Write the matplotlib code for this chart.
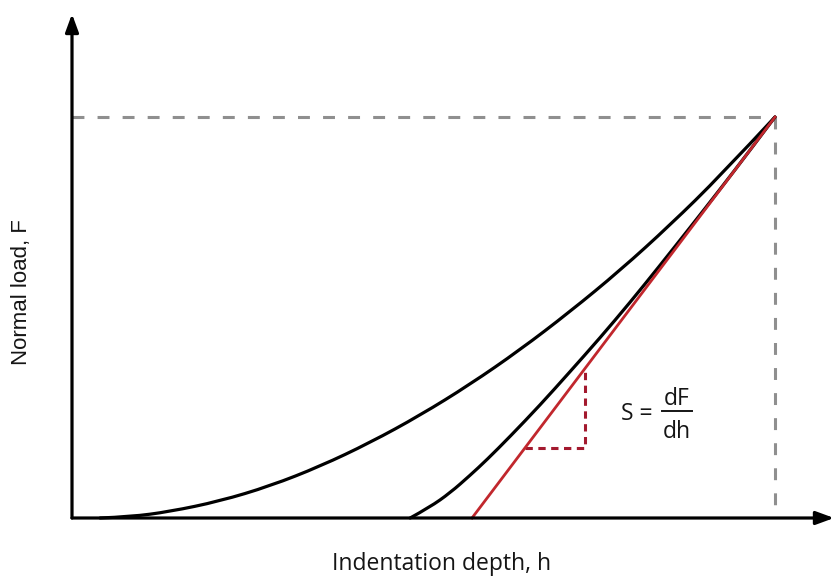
import matplotlib
matplotlib.use("Agg")
import matplotlib.pyplot as plt
from matplotlib.path import Path
from matplotlib.patches import PathPatch

# Loading branch of the indentation curve (depth h, load F; both in % of maximum)
load_h = [4.0, 8.3, 13.9, 21.0, 28.2, 35.3, 42.4, 49.5, 56.6, 63.7, 70.8, 78.0, 85.1, 92.2, 100.0]
load_F = [0.0, 0.3, 1.6, 4.2, 8.0, 12.9, 18.8, 25.6, 33.3, 41.9, 51.4, 61.8, 73.1, 85.3, 100.0]

# Unloading branch
unload_h = [48.1, 50.9, 53.8, 56.6, 59.0, 62.3, 66.6, 70.8, 75.1, 79.4, 83.6, 87.9, 92.2, 96.4, 100.0]
unload_F = [0.0, 2.7, 6.3, 10.6, 14.5, 20.3, 28.2, 36.4, 44.9, 53.8, 62.9, 72.4, 82.0, 91.6, 100.0]

# Maximum point and the contact depth where the tangent meets the depth axis
h_max, F_max = 100.0, 100.0
h_contact = 56.9
# Depths spanned by the slope triangle under the tangent
tri_h = [64.4, 73.0]


def smooth_path(xs, ys):
    """Quadratic B-spline path: the given points act as control points,
    segment midpoints as on-curve anchors; ends are kept exact."""
    pts = list(zip(xs, ys))
    verts = [pts[0]]
    codes = [Path.MOVETO]
    for i in range(1, len(pts) - 1):
        nxt = pts[i + 1] if i + 1 == len(pts) - 1 else (
            (pts[i][0] + pts[i + 1][0]) / 2, (pts[i][1] + pts[i + 1][1]) / 2)
        verts += [pts[i], nxt]
        codes += [Path.CURVE3, Path.CURVE3]
    return Path(verts, codes)


fig = plt.figure(figsize=(8.35, 5.77), dpi=100)
ax = fig.add_axes([0, 0, 1, 1])
ax.set_xlim(-72 / 7.03, 763 / 7.03)
ax.set_ylim(-59 / 4.01, 518 / 4.01)
ax.axis("off")


def px(x):
    return (x - 72) / 7.03


def py(y):
    return (518 - y) / 4.01


black = "#000000"
red = "#c1272d"
dark_red = "#a3192e"
grey = "#8f8f8f"
ink = "#151515"

# Dashed guides to the maximum point
ax.plot([0, h_max], [F_max, F_max], color=grey, lw=2.2, ls=(0, (3.9, 4.3)), zorder=1)
ax.plot([h_max, h_max], [F_max, 0], color=grey, lw=2.2, ls=(0, (3.9, 4.3)), zorder=1)

# Axes with arrow heads
arrow = dict(arrowstyle="-|>,head_length=0.6,head_width=0.22", color=black,
             lw=2.3, mutation_scale=18, shrinkA=0, shrinkB=0)
ax.annotate("", xy=(108.4, 0), xytext=(0, 0), arrowprops=arrow, zorder=5)
ax.annotate("", xy=(0, 125.7), xytext=(0, 0), arrowprops=arrow, zorder=5)

# Curves
for hs, Fs in ((load_h, load_F), (unload_h, unload_F)):
    ax.add_patch(PathPatch(smooth_path(hs, Fs), facecolor="none", edgecolor=black,
                           lw=2.3, capstyle="round", zorder=3))

# Tangent to the unloading curve at maximum load
S = F_max / (h_max - h_contact)
ax.plot([h_contact, h_max], [0, F_max], color=red, lw=2.0, zorder=4)

# Slope triangle
F_lo = S * (tri_h[0] - h_contact)
F_hi = S * (tri_h[1] - h_contact)
ax.plot([tri_h[0], tri_h[1], tri_h[1]], [F_lo, F_lo, F_hi], color=dark_red,
        lw=2.2, ls=(0, (2.4, 1.8)), zorder=2)

# Axis labels
ax.text(px(442), py(570), "Indentation depth, h",
        fontsize=16.5, family="Open Sans", ha="center", va="baseline", color=ink)
ax.text(px(22), py(292), "Normal load, F", rotation=90,
        fontsize=16, family="Liberation Sans", ha="center", va="center", color=ink)

# S = dF/dh
ax.text(px(621), py(420), "S =", fontsize=16.5, family="Open Sans",
        ha="left", va="baseline", color=ink)
ax.text(px(677), py(405), "dF", fontsize=16.5, family="Open Sans",
        ha="center", va="baseline", color=ink)
ax.text(px(677), py(437.5), "dh", fontsize=16.5, family="Open Sans",
        ha="center", va="baseline", color=ink)
ax.plot([px(662), px(692)], [py(411)] * 2, color=ink, lw=1.4)

fig.savefig("out.png", dpi=100)
